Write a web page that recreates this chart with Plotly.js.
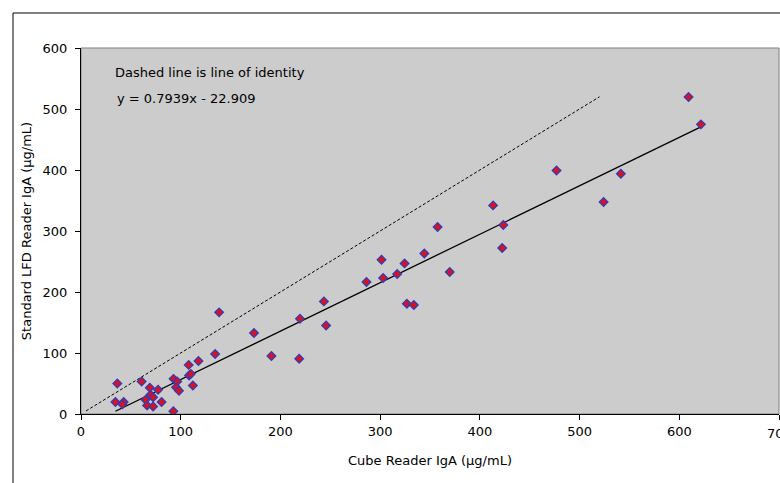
<!DOCTYPE html>
<html>
<head>
<meta charset="utf-8">
<script src="https://cdn.plot.ly/plotly-3.0.1.min.js"></script>
<style>html,body{margin:0;padding:0;background:#fff;}#chart{width:780px;height:483px;}</style>
</head>
<body>
<div id="chart"></div>
<script>
// Cube Reader IgA (µg/mL)
const cubeIgA = [36.4, 34.5, 42.8, 41.5, 60.8, 69, 69.7, 64.7, 72.3, 66.3, 72.3, 77.3, 80.8,
  92.8, 96.5, 95.3, 98.3, 92.6, 108, 117.8, 108.4, 110.2, 112.2, 134.5, 173.5, 191, 138.5,
  218.8, 219.6, 243.6, 245.8, 286.3, 301.4, 303, 317.1, 324.5, 344.3, 357.6, 369.8, 326.8,
  333.8, 413.3, 423.5, 422.4, 476.9, 541.4, 524.1, 609.3, 621.7];
// Standard LFD Reader IgA (µg/mL)
const lfdIgA = [50, 19.7, 19.7, 16, 53.2, 43, 31.6, 23.2, 27.5, 13.8, 12.2, 39.8, 19.7,
  57.6, 53.2, 44, 38, 4.6, 80.5, 86.8, 63, 65.8, 46.8, 98.4, 132.8, 95.1, 166.6,
  90.7, 156, 184.6, 145.2, 216.4, 253, 223, 229.5, 246.9, 263.2, 306.6, 232.8, 180.8,
  178.7, 342, 309.8, 272.1, 399.3, 393.9, 347.5, 519.7, 474.8];
const slope = 0.7939;
const intercept = -22.909;
const identityEnds = [5, 520];
const xTicks = [0, 100, 200, 300, 400, 500, 600, 700];
const yTicks = [0, 100, 200, 300, 400, 500, 600];

const xMin = Math.min(...cubeIgA), xMax = Math.max(...cubeIgA);
const fitX = [xMin, xMax];
const fitY = fitX.map(v => slope * v + intercept);

const font = {family: 'DejaVu Sans, Verdana, sans-serif', size: 13, color: '#000'};

const traces = [
  {x: identityEnds, y: identityEnds, mode: 'lines', line: {color: '#000', width: 1, dash: '3px,2px'}, hoverinfo: 'skip'},
  {x: fitX, y: fitY, mode: 'lines', line: {color: '#000', width: 1.3}, hoverinfo: 'skip'},
  {x: cubeIgA, y: lfdIgA, mode: 'markers', marker: {symbol: 'diamond', size: 6.5, color: '#e01018', line: {color: '#3a3ab0', width: 1.4}}}
];

const axisCommon = {showgrid: false, zeroline: false, showline: true, linecolor: '#000', linewidth: 1,
  ticks: 'outside', ticklen: 5, tickcolor: '#000', tickfont: font};

const lastX = xTicks[xTicks.length - 1];

const layout = {
  width: 780, height: 483,
  margin: {l: 81, r: 1, t: 48, b: 69},
  paper_bgcolor: '#fff', plot_bgcolor: '#cccccc',
  showlegend: false,
  font: font,
  xaxis: Object.assign({}, axisCommon, {range: [0, 700], tickvals: xTicks, ticktext: xTicks.map(String),
    title: {text: 'Cube Reader IgA (µg/mL)', font: font, standoff: 18}}),
  yaxis: Object.assign({}, axisCommon, {range: [0, 600], tickvals: yTicks, ticktext: yTicks.map(String),
    ticklabelstandoff: 5,
    title: {text: 'Standard LFD Reader IgA (µg/mL)', font: font, standoff: 8}}),
  shapes: [
    {type: 'rect', xref: 'paper', yref: 'paper', x0: 0, x1: 1, y0: 0, y1: 1, line: {color: '#808080', width: 1}, layer: 'below'},
    {type: 'rect', xref: 'paper', yref: 'paper', x0: -0.0974, x1: 1.2, y0: -0.2, y1: 1.0956, line: {color: '#000', width: 1}}
  ],
  annotations: [
    {xref: 'paper', yref: 'paper', x: 0.0458, y: 0.9317, xanchor: 'left', yanchor: 'middle', showarrow: false,
      text: 'Dashed line is line of identity', font: font},
    {xref: 'paper', yref: 'paper', x: 0.0487, y: 0.8607, xanchor: 'left', yanchor: 'middle', showarrow: false,
      text: 'y = 0.7939x - 22.909', font: font},
    {xref: 'x', yref: 'paper', x: lastX, y: -0.052, xanchor: 'center', yanchor: 'middle', showarrow: false,
      text: String(lastX), font: font}
  ]
};

Plotly.newPlot('chart', traces, layout, {staticPlot: true, displayModeBar: false});
</script>
</body>
</html>
